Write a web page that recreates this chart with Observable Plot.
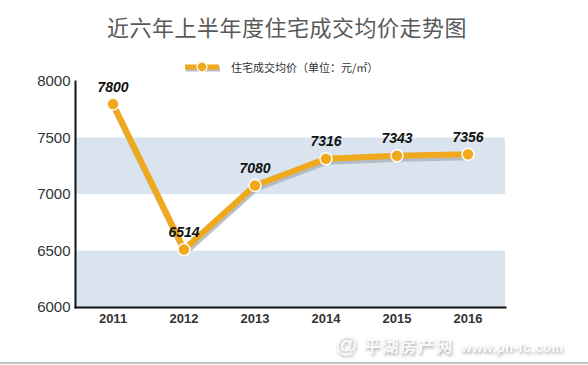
<!DOCTYPE html>
<html>
<head>
<meta charset="utf-8">
<script src="https://cdn.jsdelivr.net/npm/d3@7"></script>
<script src="https://cdn.jsdelivr.net/npm/@observablehq/plot@0.6"></script>
<style>
  html, body { margin: 0; padding: 0; background: #fff; }
  #wrap { position: relative; width: 588px; height: 365px; overflow: hidden; font-family: "Liberation Sans", Arial, sans-serif; }
  #title { position: absolute; left: 0; width: 574px; top: 10px; text-align: center; font-family: "Noto Sans CJK SC", sans-serif; font-size: 22px; color: #595959; letter-spacing: 0.5px; }
  #legend { position: absolute; left: 183px; top: 59px; height: 16px; display: flex; align-items: center; font-family: "Noto Sans CJK SC", sans-serif; font-size: 11px; color: #333; white-space: nowrap; }
  #legend svg { margin-right: 8px; }
  #chart { position: absolute; left: 0; top: 0; z-index: 2; }
  #wm { position: absolute; z-index: 1; left: 335px; top: 334px; width: 245px; height: 22px; display: flex; align-items: baseline; gap: 7px; white-space: nowrap; color: rgba(255,255,255,0.95); text-shadow: 1px 2px 3px rgba(90,90,90,0.5); line-height: 1; }
  #wm3 { font-family: "Liberation Sans", Arial, sans-serif; font-style: italic; font-size: 22px; }
  #wm1 { font-family: "Noto Sans CJK SC", sans-serif; font-weight: bold; font-size: 16px; letter-spacing: 2px; }
  #wm2 { font-family: "Liberation Sans", Arial, sans-serif; font-weight: bold; font-size: 13px; letter-spacing: 0.5px; }
  #bottomline { position: absolute; left: 0; top: 362px; width: 588px; height: 2px; background: #c4c4c4; }
</style>
</head>
<body>
<div id="wrap">
  <div id="title"></div>
  <div id="legend"></div>
  <div id="wm"><span id="wm3">@</span><span id="wm1">平湖房产网</span><span id="wm2">www.ph-fc.com</span></div>
  <div id="chart"></div>
  <div id="bottomline"></div>
</div>
<script>
const titleText = "近六年上半年度住宅成交均价走势图";
const seriesName = "住宅成交均价（单位：元/㎡）";
const years = ["2011", "2012", "2013", "2014", "2015", "2016"];
const prices = [7800, 6514, 7080, 7316, 7343, 7356];
const yTicks = [6000, 6500, 7000, 7500, 8000];
const bandLow = [6000, 7000];
const bandHigh = [6500, 7500];

const orange = "#f0a81c";
const data = years.map((y, i) => ({year: y, price: prices[i]}));
const bands = bandLow.map((lo, i) => ({lo, hi: bandHigh[i]}));

document.getElementById("title").textContent = titleText;

const leg = document.getElementById("legend");
leg.innerHTML = `<svg width="40" height="14"><line x1="3" y1="9" x2="37" y2="9" stroke="#b8bcc2" stroke-width="5"/><line x1="2" y1="7" x2="36" y2="7" stroke="${orange}" stroke-width="5"/><circle cx="19" cy="7" r="5" fill="${orange}" stroke="#fff" stroke-width="1.2"/></svg><span></span>`;
leg.querySelector("span").textContent = seriesName;

const chart = Plot.plot({
  width: 588,
  height: 365,
  marginTop: 81,
  marginBottom: 58,
  marginLeft: 75,
  marginRight: 83,
  style: {fontFamily: "'Liberation Sans', Arial, sans-serif", background: "transparent"},
  x: {type: "band", domain: years, padding: 0, label: null},
  y: {domain: [6000, 8000], label: null},
  marks: [
    Plot.rect(bands, {y1: "lo", y2: "hi", fill: "#d9e4ef"}),
    Plot.axisY({ticks: yTicks, tickFormat: "d", tickSize: 0, tickPadding: 5, fontSize: 15, fill: "#333", label: null}),
    Plot.axisX({tickSize: 0, tickPadding: 6, fontSize: 13, fontWeight: "bold", fill: "#333", label: null}),
    Plot.line(data, {x: "year", y: "price", stroke: "#a9b0b8", strokeWidth: 6, dx: 1, dy: 3, strokeOpacity: 0.8}),
    Plot.line(data, {x: "year", y: "price", stroke: orange, strokeWidth: 6}),
    Plot.dot(data, {x: "year", y: "price", r: 6, fill: orange, stroke: "#fff", strokeWidth: 1.5}),
    Plot.text(data, {x: "year", y: "price", text: d => String(d.price), dy: -17, fontSize: 14, fontWeight: "bold", fontStyle: "italic", fill: "#111"}),
    Plot.frame({anchor: "left", stroke: "#111", strokeWidth: 2}),
    Plot.frame({anchor: "bottom", stroke: "#111", strokeWidth: 2})
  ]
});
document.getElementById("chart").appendChild(chart);
</script>
</body>
</html>
